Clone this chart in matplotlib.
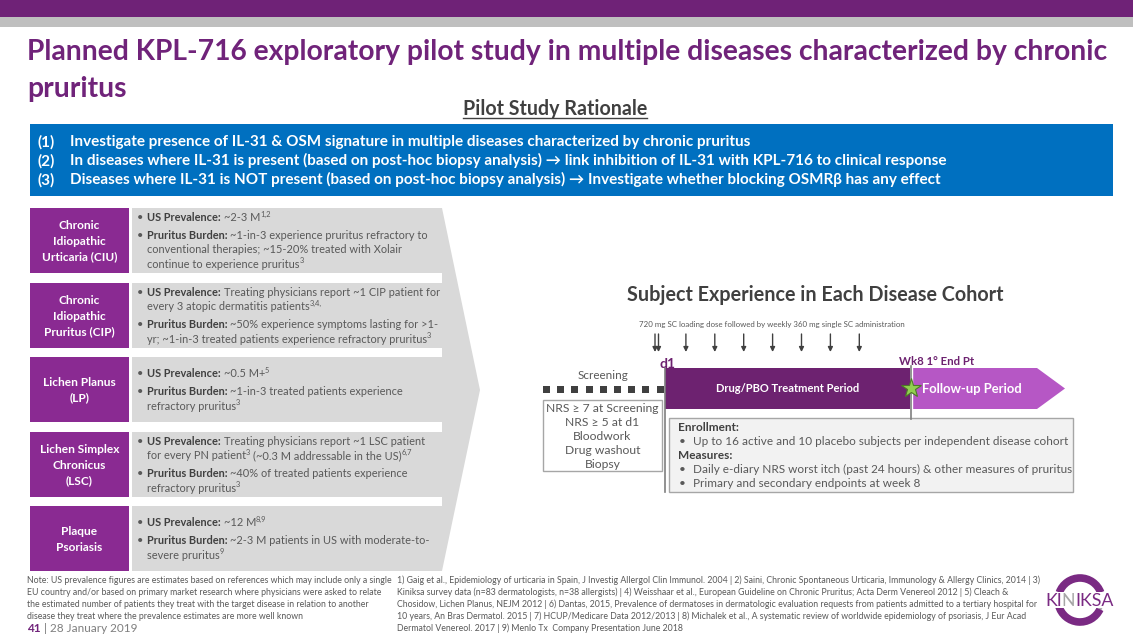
import matplotlib
matplotlib.use('Agg')
import matplotlib.pyplot as plt
from matplotlib.patches import Rectangle, Polygon, Arc

plt.rcParams['font.family'] = ['Lato', 'DejaVu Sans']

W, H = 1133, 635

# ---- slide content ----
title_lines = ["Planned KPL-716 exploratory pilot study in multiple diseases characterized by chronic",
               "pruritus"]
subtitle = "Pilot Study Rationale"
rationale_nums = ["(1)", "(2)", "(3)"]
rationale = ["Investigate presence of IL-31 & OSM signature in multiple diseases characterized by chronic pruritus",
             "In diseases where IL-31 is present (based on post-hoc biopsy analysis) \u2192 link inhibition of IL-31 with KPL-716 to clinical response",
             "Diseases where IL-31 is NOT present (based on post-hoc biopsy analysis) \u2192 Investigate whether blocking OSMR\u03b2 has any effect"]

diseases = [["Chronic", "Idiopathic", "Urticaria (CIU)"],
            ["Chronic", "Idiopathic", "Pruritus (CIP)"],
            ["Lichen Planus", "(LP)"],
            ["Lichen Simplex", "Chronicus", "(LSC)"],
            ["Plaque", "Psoriasis"]]

# (text, style): b = bold, n = normal, s = superscript
prevalence = [
    [[("US Prevalence:", "b"), (" ~2-3 M", "n"), ("1,2", "s")]],
    [[("US Prevalence:", "b"), (" Treating physicians report ~1 CIP patient for", "n")],
     [("every 3 atopic dermatitis patients", "n"), ("3,4,", "s")]],
    [[("US Prevalence:", "b"), (" ~0.5 M+", "n"), ("5", "s")]],
    [[("US Prevalence:", "b"), (" Treating physicians report ~1 LSC patient", "n")],
     [("for every PN patient", "n"), ("3", "s"), (" (~0.3 M addressable in the US)", "n"), ("6,7", "s")]],
    [[("US Prevalence:", "b"), (" ~12 M", "n"), ("8,9", "s")]],
]
burden = [
    [[("Pruritus Burden:", "b"), (" ~1-in-3 experience pruritus refractory to", "n")],
     [("conventional therapies; ~15-20% treated with Xolair", "n")],
     [("continue to experience pruritus", "n"), ("3", "s")]],
    [[("Pruritus Burden:", "b"), (" ~50% experience symptoms lasting for >1-", "n")],
     [("yr; ~1-in-3 treated patients experience refractory pruritus", "n"), ("3", "s")]],
    [[("Pruritus Burden:", "b"), (" ~1-in-3 treated patients experience", "n")],
     [("refractory pruritus", "n"), ("3", "s")]],
    [[("Pruritus Burden:", "b"), (" ~40% of treated patients experience", "n")],
     [("refractory pruritus", "n"), ("3", "s")]],
    [[("Pruritus Burden:", "b"), (" ~2-3 M patients in US with moderate-to-", "n")],
     [("severe pruritus", "n"), ("9", "s")]],
]

cohort_title = "Subject Experience in Each Disease Cohort"
dosing_note = "720 mg SC loading dose followed by weekly 360 mg single SC administration"
dose_weeks = [0, 1, 2, 3, 4, 5, 6, 7]
endpoint_week = 8
screening_items = ["NRS \u2265 7 at Screening", "NRS \u2265 5 at d1", "Bloodwork", "Drug washout", "Biopsy"]
enrollment = [("Enrollment:", "h"),
              ("Up to 16 active and 10 placebo subjects per independent disease cohort", "i"),
              ("Measures:", "h"),
              ("Daily e-diary NRS worst itch (past 24 hours) & other measures of pruritus", "i"),
              ("Primary and secondary endpoints at week 8", "i")]

note_lines = ["Note: US prevalence figures are estimates based on references which may include only a single",
              "EU country and/or based on primary market research where physicians were asked to relate",
              "the estimated number of patients they treat with the target disease in relation to another",
              "disease they treat where the prevalence estimates are more well known"]
ref_lines = ["1) Gaig et al., Epidemiology of urticaria in Spain, J Investig Allergol Clin Immunol. 2004 | 2) Saini, Chronic Spontaneous Urticaria, Immunology & Allergy Clinics, 2014 | 3)",
             "Kiniksa survey data (n=83 dermatologists, n=38 allergists) | 4) Weisshaar et al., European Guideline on Chronic Pruritus; Acta Derm Venereol 2012 | 5) Cleach &",
             "Chosidow, Lichen Planus, NEJM 2012 | 6) Dantas, 2015, Prevalence of dermatoses in dermatologic evaluation requests from patients admitted to a tertiary hospital for",
             "10 years, An Bras Dermatol. 2015 | 7) HCUP/Medicare Data 2012/2013 | 8) Michalek et al., A systematic review of worldwide epidemiology of psoriasis, J Eur Acad",
             "Dermatol Venereol. 2017 | 9) Menlo Tx  Company Presentation June 2018"]
page_num = "41"
page_date = " | 28 January 2019"

# ---- colours ----
PURPLE_TOP = '#6F2277'
PURPLE_TITLE = '#70237A'
PURPLE_LABEL = '#8A2A92'
PURPLE_BAR = '#6D2270'
PURPLE_LIGHT = '#B657C5'
BLUE = '#0070C0'
GRAY_FILL = '#D9D9D9'
TXT = '#595959'
TXT_DARK = '#404040'

fig = plt.figure(figsize=(W / 100, H / 100), dpi=100)
ax = fig.add_axes([0, 0, 1, 1])
ax.set_xlim(0, W)
ax.set_ylim(H, 0)
ax.axis('off')
R = fig.canvas.get_renderer()


def width(s, size, weight='normal'):
    t = ax.text(0, 0, '|' + s + '|', fontsize=size, fontweight=weight)
    w = t.get_window_extent(R).width
    t.remove()
    t = ax.text(0, 0, '||', fontsize=size, fontweight=weight)
    w0 = t.get_window_extent(R).width
    t.remove()
    return w - w0


def fit(s, target, weight='normal'):
    return 10 * target / width(s, 10, weight)


def runs(x, yc, parts, size, color=TXT, ha='left', bold_color=None):
    em = size * 100 / 72
    base = yc + 0.36 * em
    items = []
    total = 0
    for s, st in parts:
        sz = size * 0.68 if st == 's' else size
        wt = 'bold' if st == 'b' else 'normal'
        w = width(s, sz, wt)
        items.append((s, sz, wt, w, st))
        total += w
    if ha == 'center':
        x -= total / 2
    for s, sz, wt, w, st in items:
        lead = len(s) - len(s.lstrip())
        dx = width(' ' * lead, sz, wt) if lead else 0
        y = base - 0.4 * em if st == 's' else base
        c = bold_color if (st == 'b' and bold_color) else color
        ax.text(x + dx, y, s.lstrip(), fontsize=sz, fontweight=wt, color=c, va='baseline', ha='left')
        x += w
    return total


def line(x, yc, s, size, color=TXT, weight='normal', ha='left'):
    em = size * 100 / 72
    ax.text(x, yc + 0.36 * em, s, fontsize=size, fontweight=weight, color=color, va='baseline', ha=ha)


# ---- header ----
ax.add_patch(Rectangle((0, 0), W, 17, color=PURPLE_TOP, lw=0))
ax.add_patch(Rectangle((0, 17), W, 10, color='#BFBFBF', lw=0))

ts = fit(title_lines[0], 1083, 'bold')
line(27, 50, title_lines[0], ts, PURPLE_TITLE, 'bold')
line(27, 87, title_lines[1], ts, PURPLE_TITLE, 'bold')

ss = fit(subtitle, 184, 'bold')
line(555, 108, subtitle, ss, TXT_DARK, 'bold', ha='center')
ax.plot([463, 647], [118, 118], color=TXT_DARK, lw=1)

ax.add_patch(Rectangle((30, 124), 1083, 72, color=BLUE, lw=0))
bs = fit(rationale[1], 876, 'bold')
for i, (n, s) in enumerate(zip(rationale_nums, rationale)):
    yc = 141 + i * 19
    line(38, yc, n, bs, 'white', 'bold')
    line(70, yc, s, bs, 'white', 'bold')

# ---- left disease panel ----
row_top = [208, 283, 357, 432, 506]
row_h = 65
ax.add_patch(Polygon([(30, 208), (442, 208), (480, 390), (442, 571), (30, 571)],
                     closed=True, color=GRAY_FILL, lw=0))
for a, b in zip(row_top[:-1], row_top[1:]):
    ax.add_patch(Rectangle((30, a + row_h), 412, b - a - row_h, color='white', lw=0))

ls = fit("Lichen Simplex", 80, 'bold')
rs = fit("yr; ~1-in-3 treated patients experience refractory pruritus", 280)
for i, top in enumerate(row_top):
    ax.add_patch(Rectangle((129, top), 3, row_h, color='white', lw=0))
    ax.add_patch(Rectangle((30, top), 99, row_h, color=PURPLE_LABEL, lw=0))
    lab = diseases[i]
    cy = top + row_h / 2
    for j, s in enumerate(lab):
        line(79.5, cy + (j - (len(lab) - 1) / 2) * 15.5, s, ls, 'white', 'bold', ha='center')
    bullets = [prevalence[i], burden[i]]
    n_lines = sum(len(b) for b in bullets)
    span = (n_lines - len(bullets)) * 14.3 + (len(bullets) - 1) * 18
    y = cy - span / 2
    for b in bullets:
        for k, parts in enumerate(b):
            if k == 0:
                line(137, y, "\u2022", rs, TXT)
            runs(147, y, parts, rs, TXT, bold_color=TXT_DARK)
            y += 14.3
        y += 18 - 14.3

# ---- right timeline ----
cs = fit(cohort_title, 376, 'bold')
line(815, 294, cohort_title, cs, TXT_DARK, 'bold', ha='center')
ds = fit(dosing_note, 265)
line(772, 324, dosing_note, ds, TXT, ha='center')

x_d1, wk_px = 657, 28.9
for wk in dose_weeks:
    xs = [x_d1 - 2, x_d1 + 1.5] if wk == 0 else [x_d1 + wk * wk_px]
    for xa in xs:
        ax.annotate('', xy=(xa, 352), xytext=(xa, 334),
                    arrowprops=dict(arrowstyle='-|>', color=TXT_DARK, lw=1, mutation_scale=7,
                                    shrinkA=0, shrinkB=0))

line(667, 363, "d1", 10, PURPLE_BAR, 'bold', ha='center')
line(937, 361, "Wk8 1\u00b0 End Pt", fit("Wk8 1\u00b0 End Pt", 75, 'bold'), PURPLE_BAR, 'bold', ha='center')

x_wk8 = x_d1 + endpoint_week * wk_px + 23
ax.add_patch(Rectangle((665, 368), x_wk8 - 1 - 665, 41, color=PURPLE_BAR, lw=0))
ax.add_patch(Polygon([(x_wk8 + 2, 368), (1037, 368), (1065, 388.5), (1037, 409), (x_wk8 + 2, 409)],
                     closed=True, color=PURPLE_LIGHT, lw=0))
line((665 + x_wk8) / 2, 388, "Drug/PBO Treatment Period",
     fit("Drug/PBO Treatment Period", 143, 'bold'), 'white', 'bold', ha='center')
line(922, 388, "Follow-up Period", fit("Follow-up Period", 100, 'bold'), 'white', 'bold')

ax.plot([665, 665], [368, 492], color='#7F7F7F', lw=1.2)
ax.plot([x_wk8, x_wk8], [366, 419], color='#7F7F7F', lw=1.2)
ax.plot([x_wk8], [388], marker='*', ms=15, color='#92D050', mec='#4E7A27', mew=0.8)

# screening
line(603, 375, "Screening", fit("Screening", 50), TXT, ha='center')
for k in range(9):
    ax.add_patch(Rectangle((543 + k * 14.2, 385.5), 7, 7, color=TXT_DARK, lw=0))
ax.add_patch(Rectangle((543, 400), 119, 71, facecolor='white', edgecolor='#A6A6A6', lw=1))
scs = fit(screening_items[0], 112)
for k, s in enumerate(screening_items):
    line(602.5, 407.5 + k * 14, s, scs, TXT, ha='center')

ax.add_patch(Rectangle((669, 418), 404, 74, facecolor='#F2F2F2', edgecolor='#A6A6A6', lw=1))
es = fit(enrollment[1][0], 373)
for k, (s, kind) in enumerate(enrollment):
    y = 427 + k * 14
    if kind == 'h':
        line(678, y, s, es, TXT_DARK, 'bold')
    else:
        line(679, y, "\u2022", es, TXT)
        line(693, y, s, es, TXT)

# ---- footer ----
ns = fit(note_lines[0], 363)
for k, s in enumerate(note_lines):
    line(27, 580 + k * 12, s, ns, TXT)
fs = min(fit(s, 643) for s in ref_lines)
for k, s in enumerate(ref_lines):
    line(397, 580 + k * 12, s, fs, TXT)
runs(27, 628, [(page_num, "b"), (page_date, "n")], 8.5, '#7F7F7F', bold_color=PURPLE_TITLE)

# logo
LOGO_P = '#7A2A83'
cx, cy, d = 1080, 600, 44
ax.add_patch(Arc((cx, cy), d, d, theta1=0, theta2=360, color='#B0B0B0', lw=2.5))
ax.add_patch(Arc((cx, cy), d, d, theta1=200, theta2=340, color=LOGO_P, lw=5.5))
ax.add_patch(Arc((cx, cy), d, d, theta1=25, theta2=165, color=LOGO_P, lw=5.5))
ax.add_patch(Rectangle((1044, 592), 70, 16, color='white', lw=0))
logo_s = fit("KINIKSA", 68)
x0 = 1045
for s, c in [("KI", LOGO_P), ("N", '#A6A6A6'), ("IKSA", LOGO_P)]:
    line(x0, 600, s, logo_s, c)
    x0 += width(s, logo_s)

fig.savefig('out.png', dpi=100)
